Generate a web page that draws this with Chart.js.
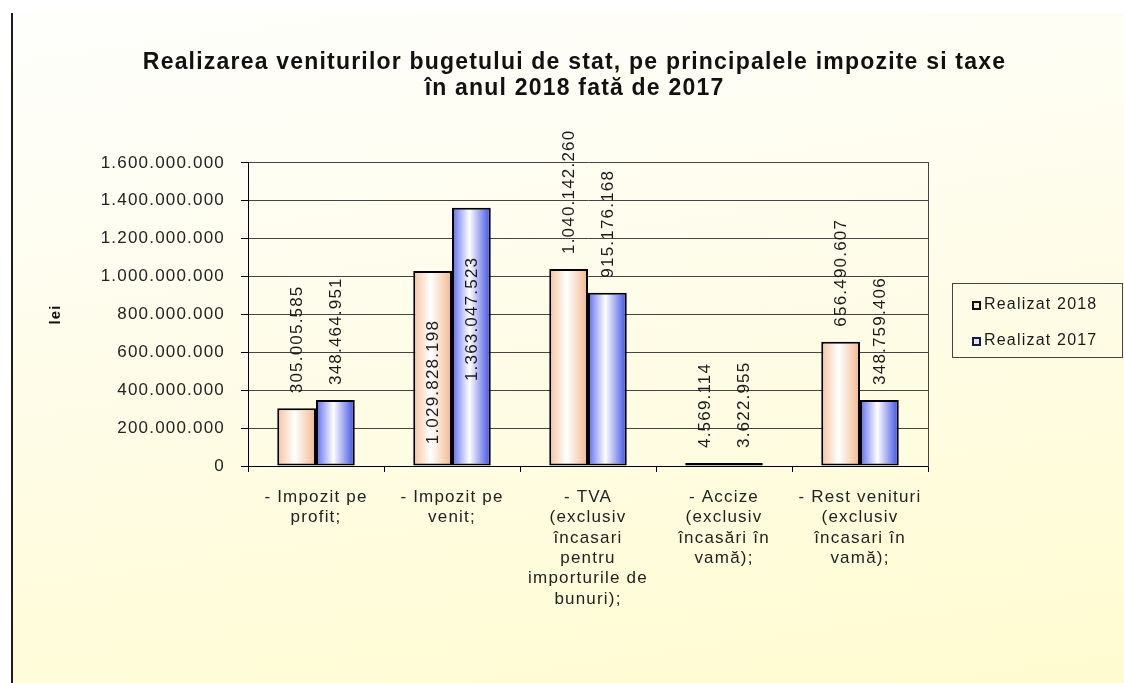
<!DOCTYPE html>
<html>
<head>
<meta charset="utf-8">
<script src="https://cdn.jsdelivr.net/npm/chart.js@4.4.0/dist/chart.umd.min.js"></script>
<style>
  html, body { margin: 0; padding: 0; background: #fff; }
  #wrap { position: relative; width: 1124px; height: 683px; overflow: hidden; }
  #bg {
    position: absolute; left: 11px; top: 13px; right: 0; bottom: 0;
    border-left: 2px solid #1c1c1c;
    background: linear-gradient(172deg, #fefefc 0%, #fefdee 35%, #fffbd0 100%);
  }
  canvas { position: absolute; left: 0; top: 0; }
  #legend {
    position: absolute; left: 952px; top: 283px; width: 171px; height: 75px;
    border: 1px solid #444; box-sizing: border-box; padding-top: 11px;
    font-family: "Liberation Sans", Arial, sans-serif; font-size: 16px;
    letter-spacing: 1.2px; color: #1a1a1a;
  }
  #legend .row { height: 18px; line-height: 18px; margin-bottom: 18px; white-space: nowrap; }
  #legend .mk {
    display: inline-block; width: 9px; height: 9px; box-sizing: border-box;
    border: 2px solid #111; margin-left: 19px; margin-right: 3px; vertical-align: -1px;
  }
</style>
</head>
<body>
<div id="wrap">
  <div id="bg"></div>
  <canvas id="chart" width="1124" height="683"></canvas>
  <div id="legend"></div>
</div>
<script>
// values (lei)
const categories = [
  ['- Impozit pe', 'profit;'],
  ['- Impozit pe', 'venit;'],
  ['- TVA', '(exclusiv', 'încasari', 'pentru', 'importurile de', 'bunuri);'],
  ['- Accize', '(exclusiv', 'încasări în', 'vamă);'],
  ['- Rest venituri', '(exclusiv', 'încasari în', 'vamă);']
];
const seriesNames = ['Realizat 2018', 'Realizat 2017'];
const realizat2018 = [305005585, 1029828198, 1040142260, 4569114, 656490607];
const realizat2017 = [348464951, 1363047523, 915176168, 3622955, 348759406];
const yMin = 0;
const yMax = 1600000000;
const yStep = 200000000;

const FONT = '"Liberation Sans", Arial, sans-serif';
const CAT_PCT = 0.57;
const fills = [
  ['#f6c29c', '#ffffff', '#f2b68c'],
  ['#5b6cf0', '#ffffff', '#3b4de4']
];
const markerFills = ['#fdebdc', '#dfe3fc'];
const markerBorders = ['#111', '#1a1a40'];

function fmt(v) {
  return String(v).replace(/\B(?=(\d{3})+(?!\d))/g, '.');
}

// horizontal gradient per bar, computed from the x scale
function barFill(stops) {
  return (c) => {
    const chart = c.chart, xs = chart.scales.x;
    if (c.type !== 'data' || !xs || !xs.width) return stops[0];
    const cat = xs.width / chart.data.labels.length;
    const w = cat * CAT_PCT / 2;
    const left = xs.getPixelForValue(c.dataIndex) - cat * CAT_PCT / 2 + c.datasetIndex * w;
    const g = chart.ctx.createLinearGradient(left, 0, left + w, 0);
    g.addColorStop(0, stops[0]);
    g.addColorStop(0.45, stops[1]);
    g.addColorStop(1, stops[2]);
    return g;
  };
}

const spacing = {
  id: 'spacing',
  beforeLayout(chart) { chart.ctx.letterSpacing = '1.2px'; },
  beforeDraw(chart) { chart.ctx.letterSpacing = '1.2px'; }
};

// rotated value labels above the bars (or inside, for some categories)
const valueLabels = {
  id: 'valueLabels',
  afterDatasetsDraw(chart, args, opts) {
    const ctx = chart.ctx;
    ctx.save();
    ctx.font = '17px ' + FONT;
    ctx.fillStyle = '#1a1a1a';
    ctx.textBaseline = 'middle';
    chart.data.datasets.forEach((ds, di) => {
      chart.getDatasetMeta(di).data.forEach((bar, i) => {
        const inside = opts.inside.includes(i);
        ctx.save();
        ctx.translate(bar.x + 1, inside ? bar.y + opts.insideGap : bar.y - opts.gap);
        ctx.rotate(-Math.PI / 2);
        ctx.textAlign = inside ? 'right' : 'left';
        ctx.fillText(fmt(ds.data[i]), 0, 0);
        ctx.restore();
      });
    });
    ctx.restore();
  }
};

const chart = new Chart(document.getElementById('chart'), {
  type: 'bar',
  data: {
    labels: categories,
    datasets: [realizat2018, realizat2017].map((d, i) => ({
      label: seriesNames[i],
      data: d,
      backgroundColor: barFill(fills[i]),
      borderColor: '#000',
      borderWidth: 2,
      borderSkipped: false,
      minBarLength: 3,
      categoryPercentage: CAT_PCT,
      barPercentage: 1
    }))
  },
  options: {
    responsive: false,
    animation: false,
    layout: { padding: { left: 25, right: 0, top: 0, bottom: 0 } },
    scales: {
      x: {
        afterFit: (s) => { s.height = 217; },
        grid: { drawOnChartArea: false, drawTicks: true, tickLength: 6, color: '#000' },
        border: { color: '#000', width: 1 },
        ticks: {
          autoSkip: false, maxRotation: 0, padding: 15, color: '#222',
          font: { family: FONT, size: 17, lineHeight: 1.2 }
        }
      },
      y: {
        min: yMin, max: yMax,
        afterFit: (s) => { s.width = 223; },
        grid: { color: '#444', tickColor: '#000', tickLength: 7, lineWidth: 1 },
        border: { color: '#000', width: 1 },
        ticks: {
          stepSize: yStep, padding: 16, color: '#222',
          font: { family: FONT, size: 17 },
          callback: (v) => fmt(v)
        },
        title: {
          display: true, text: 'lei', color: '#111',
          font: { family: FONT, size: 15, weight: 'bold' },
          padding: { top: 22, bottom: 0 }
        }
      },
      yR: {
        type: 'linear', position: 'right', display: true,
        afterFit: (s) => { s.width = 196; },
        grid: { display: false },
        ticks: { display: false },
        border: { display: true, color: '#444', width: 1 }
      }
    },
    plugins: {
      legend: { display: false },
      tooltip: { enabled: false },
      title: {
        display: true,
        text: ['Realizarea veniturilor bugetului de stat, pe principalele impozite si taxe',
               'în anul 2018 fată de 2017'],
        color: '#111',
        font: { family: FONT, size: 23, weight: 'bold', lineHeight: 1.15 },
        padding: { top: 49, bottom: 61 }
      },
      valueLabels: { gap: 15, insideGap: 49, inside: [1] }
    }
  },
  plugins: [spacing, valueLabels]
});

// html legend built from the datasets
const legend = document.getElementById('legend');
chart.data.datasets.forEach((ds, i) => {
  const row = document.createElement('div');
  row.className = 'row';
  const mk = document.createElement('span');
  mk.className = 'mk';
  mk.style.background = markerFills[i];
  mk.style.borderColor = markerBorders[i];
  row.appendChild(mk);
  row.appendChild(document.createTextNode(ds.label));
  legend.appendChild(row);
});
</script>
</body>
</html>
